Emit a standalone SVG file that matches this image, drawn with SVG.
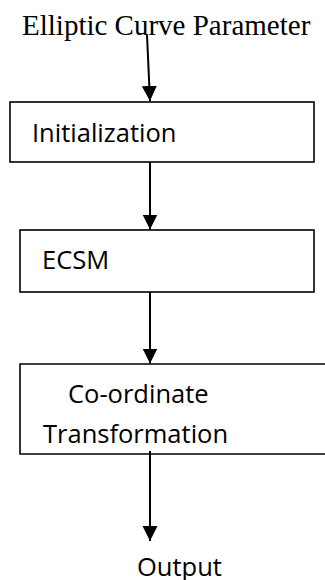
<svg xmlns="http://www.w3.org/2000/svg" width="325" height="580" viewBox="0 0 325 580">
<defs>
<marker id="ah" markerUnits="userSpaceOnUse" markerWidth="16" markerHeight="16" refX="15" refY="7.5" orient="auto">
<path d="M0,0 L15,7.5 L0,15 Z" fill="#000"/>
</marker>
<style>
.box{fill:#fff;stroke:#000;stroke-width:1.6}
.lbl{font-family:"Open Sans","Noto Sans",sans-serif;font-size:25.5px;fill:#000}
.ttl{font-family:"Liberation Serif",serif;font-size:29px;fill:#000}
.conn{stroke:#000;stroke-width:2;fill:none;marker-end:url(#ah)}
</style>
</defs>
<rect width="325" height="580" fill="#fff"/>
<g id="title"><text class="ttl" x="22" y="35">Elliptic Curve Parameter</text></g>
<g id="init"><rect class="box" x="10" y="102" width="304" height="60"/><text class="lbl" x="32" y="142">Initialization</text></g>
<g id="ecsm"><rect class="box" x="20" y="230" width="294" height="62"/><text class="lbl" x="42" y="269">ECSM</text></g>
<g id="coord"><path class="box" d="M326,364 H20 V454 H326"/><text class="lbl" x="68" y="403">Co-ordinate</text><text class="lbl" x="43" y="443">Transformation</text></g>
<g id="output"><text class="lbl" x="137" y="576">Output</text></g>
<g id="connectors">
<line class="conn" x1="147" y1="35" x2="150" y2="101"/>
<line class="conn" x1="150" y1="162" x2="150" y2="229.5"/>
<line class="conn" x1="150" y1="292" x2="150" y2="363.5"/>
<line class="conn" x1="150" y1="451" x2="150" y2="541"/>
</g>
</svg>
